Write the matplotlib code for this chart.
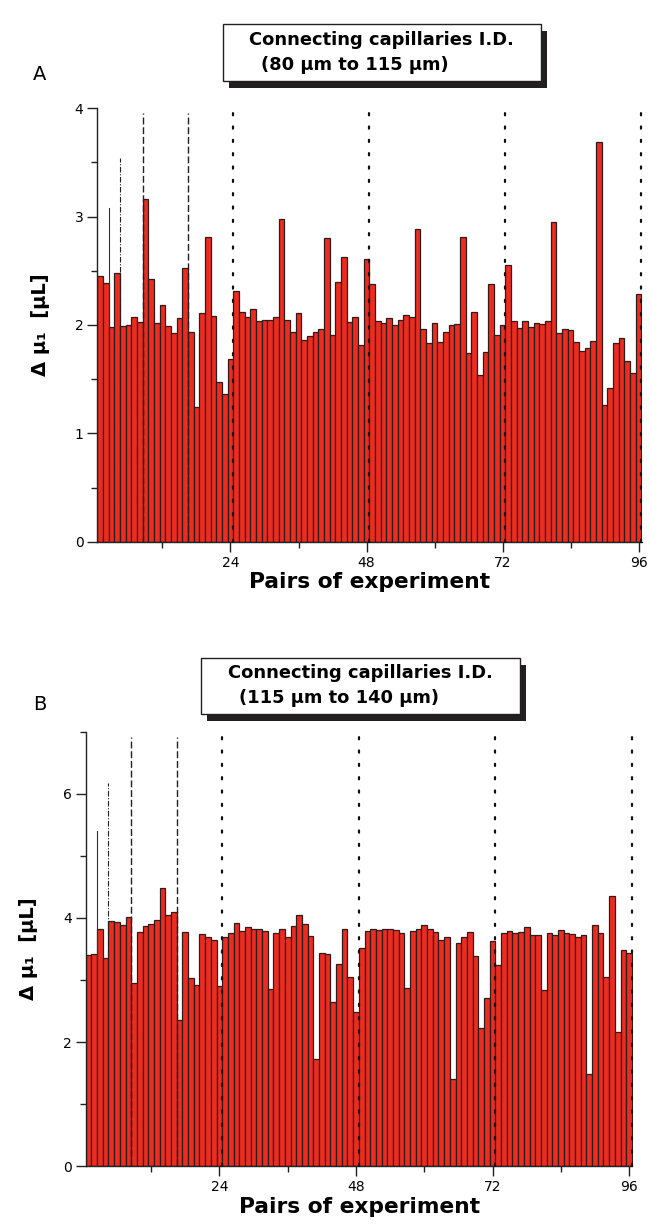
import matplotlib.pyplot as plt
from matplotlib.patches import Rectangle
from matplotlib.ticker import MultipleLocator

plt.rcParams['font.family'] = ['DejaVu Sans']

# pixel geometry of the reference
W, H = 651, 1226
fig = plt.figure(figsize=(W / 100, H / 100), dpi=100)


def fx(x):
    return x / W


def fy(y):
    return 1 - y / H


# data
pairs = list(range(1, 97))

delta_a = [2.45, 2.39, 1.98, 2.48, 1.99, 2.00, 2.07, 2.03, 3.16, 2.42,
           2.02, 2.18, 1.99, 1.93, 2.06, 2.53, 1.94, 1.24, 2.11, 2.81,
           2.08, 1.47, 1.36, 1.69, 2.31, 2.12, 2.07, 2.15, 2.04, 2.05,
           2.05, 2.07, 2.98, 2.05, 1.94, 2.11, 1.86, 1.90, 1.94, 1.96,
           2.80, 1.91, 2.40, 2.63, 2.03, 2.07, 1.82, 2.61, 2.38, 2.04,
           2.02, 2.06, 2.00, 2.05, 2.09, 2.07, 2.89, 1.96, 1.83, 2.02,
           1.84, 1.94, 2.00, 2.01, 2.81, 1.74, 2.12, 1.54, 1.75, 2.38,
           1.91, 2.00, 2.55, 2.04, 1.97, 2.04, 1.98, 2.02, 2.01, 2.04,
           2.95, 1.93, 1.96, 1.95, 1.84, 1.76, 1.79, 1.85, 3.69, 1.26,
           1.42, 1.83, 1.88, 1.67, 1.56, 2.29]

delta_b = [3.41, 3.42, 3.83, 3.36, 3.95, 3.94, 3.88, 4.02, 2.96, 3.78,
           3.87, 3.91, 3.96, 4.48, 4.04, 4.09, 2.35, 3.78, 3.03, 2.92,
           3.74, 3.70, 3.65, 2.90, 3.69, 3.76, 3.92, 3.79, 3.85, 3.83,
           3.83, 3.79, 2.86, 3.76, 3.82, 3.69, 3.87, 4.04, 3.90, 3.71,
           1.73, 3.43, 3.42, 2.65, 3.26, 3.82, 3.05, 2.48, 3.51, 3.79,
           3.83, 3.80, 3.83, 3.82, 3.80, 3.76, 2.87, 3.79, 3.83, 3.89,
           3.83, 3.77, 3.65, 3.70, 1.41, 3.59, 3.70, 3.77, 3.38, 2.22,
           2.71, 3.63, 3.24, 3.75, 3.79, 3.76, 3.78, 3.85, 3.73, 3.73,
           2.84, 3.76, 3.73, 3.80, 3.76, 3.74, 3.69, 3.73, 1.48, 3.89,
           3.75, 3.05, 4.36, 2.17, 3.48, 3.43]

sep_pos = [2.5, 4.5, 8.5, 16.5, 24.5, 48.5, 72.5, 96.5]
sep_style = ['-', '-.', '--', '--', ':', ':', ':', ':']
sep_top_a = [3.08, 3.54, 3.96, 3.96, 4.05, 4.05, 4.05, 4.05]
sep_top_b = [5.40, 6.18, 6.92, 6.92, 7.07, 7.07, 7.07, 7.07]

titles = [("Connecting capillaries I.D.", "(80 \u03bcm to 115 \u03bcm)"),
          ("Connecting capillaries I.D.", "(115 \u03bcm to 140 \u03bcm)")]

bar_fill = '#ee2b1f'
bar_edge = '#2e1c1c'

line_kw = {'-': dict(lw=0.8, color='#333333'),
           '-.': dict(lw=0.8, color='#222222', dashes=(5, 1.5, 1, 1.5)),
           '--': dict(lw=1.0, color='#222222', dashes=(5, 2)),
           ':': dict(lw=1.6, color='#111111', dashes=(1, 5),
                     dash_capstyle='round')}


def make_panel(rect, values, ylim, ymajor, tops, letter, title, box, letter_xy):
    left, top, right, bottom = rect
    ax = fig.add_axes([fx(left), fy(bottom), (right - left) / W, (bottom - top) / H])
    ax.bar(pairs, values, width=1.0, color=bar_fill, edgecolor=bar_edge,
           linewidth=0.9, zorder=2)
    for xp, st, tp in zip(sep_pos, sep_style, tops):
        ax.plot([xp, xp], [0, tp], clip_on=False, zorder=3, **line_kw[st])
    ax.set_xlim(0.5, 96.6)
    ax.set_ylim(*ylim)
    ax.xaxis.set_minor_locator(MultipleLocator(12))
    ax.set_xticks([24, 48, 72, 96])
    ax.yaxis.set_major_locator(MultipleLocator(ymajor))
    ax.yaxis.set_minor_locator(MultipleLocator(ymajor / 2))
    for s in ['top', 'right']:
        ax.spines[s].set_visible(False)
    for s in ['left', 'bottom']:
        ax.spines[s].set_linewidth(1.0)
        ax.spines[s].set_color('#222222')
    ax.tick_params(which='major', direction='out', length=7, width=1.0,
                   labelsize=10, color='#222222', pad=3)
    ax.tick_params(which='minor', direction='out', length=4, width=1.0,
                   color='#222222')
    ax.set_xlabel("Pairs of experiment", fontsize=15.7, fontweight='bold',
                  labelpad=2)
    ax.set_ylabel("\u0394 \u03bc\u2081  [\u03bcL]", fontsize=14,
                  fontweight='bold', labelpad=18)

    # title box with drop shadow
    bl, bt, br, bb = box
    fig.patches.append(Rectangle((fx(bl + 6), fy(bb + 7)), (br - bl) / W,
                                 (bb - bt) / H, transform=fig.transFigure,
                                 facecolor='#231f20', edgecolor='none',
                                 zorder=5))
    fig.patches.append(Rectangle((fx(bl), fy(bb)), (br - bl) / W,
                                 (bb - bt) / H, transform=fig.transFigure,
                                 facecolor='white', edgecolor='#231f20',
                                 linewidth=1.0, zorder=6))
    fig.text(fx((bl + br) / 2), fy(bb - 41), title[0], ha='center',
             va='center', fontsize=12.9, fontweight='bold', zorder=7)
    fig.text(fx(bl + 38), fy(bb - 16), title[1], ha='left', va='center',
             fontsize=12.9, fontweight='bold', zorder=7)
    fig.text(fx(letter_xy[0]), fy(letter_xy[1]), letter, ha='center',
             va='center', fontsize=14)
    return ax


make_panel((97.3, 108.3, 642.0, 541.7), delta_a, (0, 4), 1, sep_top_a, "A",
           titles[0], (222.7, 24, 540.7, 80.7), (40, 75))
make_panel((85.7, 731.7, 632.5, 1166.3), delta_b, (0, 7), 2, sep_top_b, "B",
           titles[1], (201, 658, 520, 714.3), (40, 705))

fig.savefig("out.png", dpi=100)
